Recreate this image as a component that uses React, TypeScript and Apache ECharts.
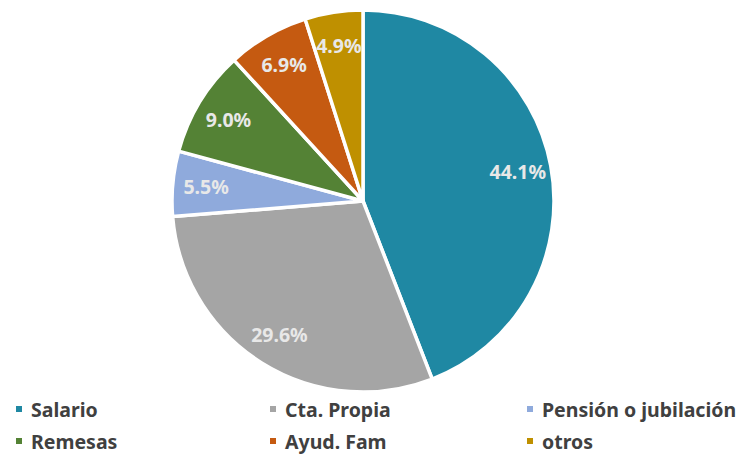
import React, { useEffect, useRef } from "react";
import * as echarts from "echarts";

const categories = ["Salario", "Cta. Propia", "Pensión o jubilación", "Remesas", "Ayud. Fam", "otros"];
const values = [44.1, 29.6, 5.5, 9.0, 6.9, 4.9];
const colors = ["#1f88a3", "#a5a5a5", "#8faadc", "#548235", "#c55a11", "#bf9000"];

const FONT = "'Noto Sans', 'DejaVu Sans', sans-serif";

const legendCols = [14, 268, 525];
const legendRows = [399, 431];

export default function App() {
  const ref = useRef<HTMLDivElement>(null);
  useEffect(() => {
    if (!ref.current) return;
    const chart = echarts.init(ref.current, undefined, { renderer: "svg" });
    const data = categories.map((name, i) => ({ name, value: values[i], itemStyle: { color: colors[i] } }));
    const overlay = categories.map((name, i) => ({ name, value: values[i] }));
    const legends = categories.map((name, i) => ({
      left: legendCols[i % 3],
      top: legendRows[Math.floor(i / 3)],
      padding: 0,
      orient: "horizontal",
      icon: "rect",
      itemWidth: 8,
      itemHeight: 8,
      selectedMode: false,
      data: [{ name, itemStyle: { color: colors[i] } }],
      textStyle: {
        fontFamily: FONT,
        fontWeight: "bold",
        fontSize: 19.5,
        color: "#404040",
        padding: [0, 0, 0, 3],
      },
    }));
    chart.setOption({
      animation: false,
      backgroundColor: "#ffffff",
      legend: legends,
      series: [
        {
          type: "pie",
          center: [363, 201],
          radius: [0, 191],
          startAngle: 90,
          clockwise: true,
          label: { show: false },
          labelLine: { show: false },
          itemStyle: { borderColor: "#ffffff", borderWidth: 3.5 },
          emphasis: { disabled: true },
          data,
        },
        {
          type: "pie",
          center: [363, 201],
          radius: [118, 191],
          startAngle: 90,
          clockwise: true,
          silent: true,
          itemStyle: { color: "transparent", borderWidth: 0 },
          emphasis: { disabled: true },
          labelLine: { show: false },
          label: {
            show: true,
            position: "inside",
            formatter: (p: any) => `${Number(p.value).toFixed(1)}%`,
            fontFamily: FONT,
            fontWeight: "bold",
            fontSize: 19.5,
            color: "#e8e8e8",
          },
          data: overlay,
        },
      ],
    });
    return () => chart.dispose();
  }, []);
  return <div ref={ref} style={{ position: "fixed", left: 0, top: 0, width: 744, height: 455 }} />;
}
